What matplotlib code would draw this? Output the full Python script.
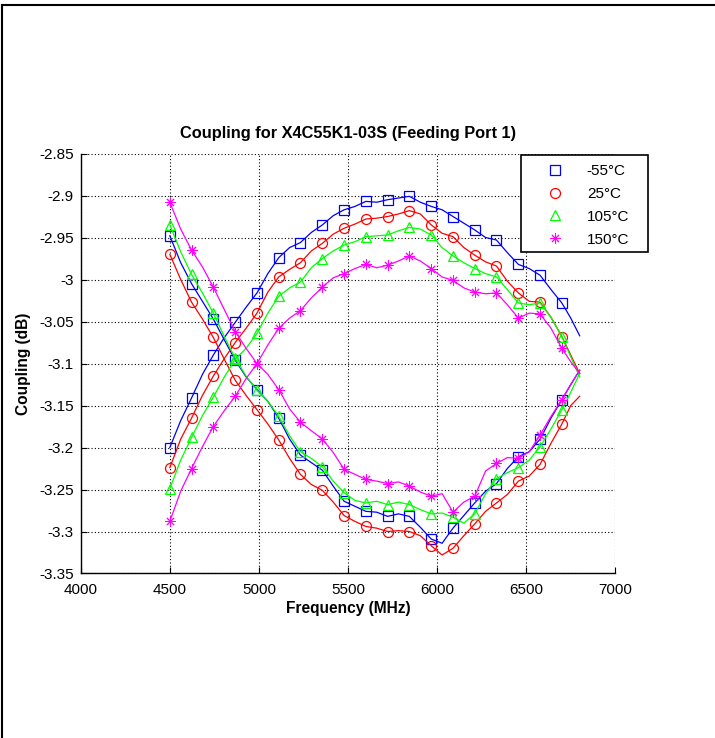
#!/usr/bin/env python3
"""
耦合度温度特性曲线复现
X4C55K1-03S (Feeding Port 1) 在四个温度下的两条耦合度曲线
"""

import matplotlib
matplotlib.use("Agg")
import matplotlib.pyplot as plt
from matplotlib.lines import Line2D
from matplotlib.patches import Rectangle

# ===================== 配置项 =====================
SAVE_PATH = "out.png"

# 曲线采样频点 (MHz)，偶数下标为标记点
LINE_FREQ = [4500, 4561, 4622, 4683, 4744, 4806, 4867, 4928, 4989, 5050,
             5111, 5172, 5233, 5294, 5356, 5417, 5478, 5539, 5600, 5661,
             5722, 5783, 5844, 5906, 5967, 6028, 6089, 6150, 6211, 6272,
             6333, 6394, 6456, 6517, 6578, 6639, 6700, 6750, 6800]
N_MARK = 37  # 前37个点中每隔一个画标记 (4500~6700)

TEMPS = ["-55\u00b0C", "25\u00b0C", "105\u00b0C", "150\u00b0C"]

# 上弧线 (先升后降)
UP_M55 = [-3.200, -3.168, -3.141, -3.113, -3.090, -3.069, -3.051, -3.033, -3.016, -2.993,
          -2.974, -2.962, -2.956, -2.944, -2.935, -2.924, -2.917, -2.913, -2.907, -2.908,
          -2.905, -2.903, -2.901, -2.908, -2.913, -2.917, -2.925, -2.933, -2.941, -2.950,
          -2.953, -2.968, -2.982, -2.987, -2.995, -3.012, -3.028, -3.046, -3.067]
UP_25 = [-3.224, -3.190, -3.165, -3.138, -3.115, -3.094, -3.075, -3.058, -3.040, -3.015,
         -2.997, -2.988, -2.980, -2.966, -2.957, -2.946, -2.939, -2.934, -2.928, -2.927,
         -2.925, -2.922, -2.918, -2.922, -2.935, -2.945, -2.949, -2.962, -2.971, -2.979,
         -2.984, -3.002, -3.016, -3.026, -3.027, -3.045, -3.068, -3.090, -3.112]
UP_105 = [-3.249, -3.215, -3.188, -3.162, -3.140, -3.116, -3.095, -3.082, -3.064, -3.040,
          -3.020, -3.010, -3.003, -2.986, -2.975, -2.966, -2.959, -2.955, -2.949, -2.948,
          -2.947, -2.942, -2.938, -2.940, -2.947, -2.962, -2.972, -2.980, -2.987, -2.993,
          -2.997, -3.012, -3.028, -3.030, -3.028, -3.045, -3.068, -3.092, -3.116]
UP_150 = [-3.288, -3.252, -3.225, -3.199, -3.175, -3.156, -3.139, -3.118, -3.100, -3.078,
          -3.058, -3.046, -3.037, -3.022, -3.009, -2.998, -2.993, -2.987, -2.982, -2.986,
          -2.983, -2.978, -2.972, -2.978, -2.987, -2.997, -3.001, -3.010, -3.015, -3.017,
          -3.016, -3.030, -3.046, -3.040, -3.041, -3.058, -3.082, -3.098, -3.112]

# 下弧线 (先降后升)
DN_M55 = [-2.948, -2.980, -3.005, -3.026, -3.047, -3.072, -3.096, -3.116, -3.131, -3.145,
          -3.165, -3.190, -3.209, -3.218, -3.227, -3.246, -3.264, -3.270, -3.276, -3.277,
          -3.282, -3.279, -3.282, -3.295, -3.309, -3.314, -3.296, -3.281, -3.266, -3.252,
          -3.243, -3.225, -3.211, -3.205, -3.190, -3.165, -3.143, -3.125, -3.108]
DN_25 = [-2.970, -3.000, -3.027, -3.047, -3.069, -3.095, -3.120, -3.138, -3.155, -3.172,
         -3.191, -3.213, -3.232, -3.244, -3.251, -3.265, -3.281, -3.288, -3.294, -3.296,
         -3.300, -3.299, -3.300, -3.305, -3.317, -3.328, -3.320, -3.305, -3.291, -3.276,
         -3.266, -3.256, -3.240, -3.234, -3.220, -3.195, -3.172, -3.150, -3.139]
DN_105 = [-2.935, -2.967, -2.994, -3.016, -3.040, -3.068, -3.094, -3.115, -3.132, -3.145,
          -3.163, -3.186, -3.205, -3.213, -3.223, -3.240, -3.254, -3.263, -3.266, -3.264,
          -3.268, -3.265, -3.268, -3.274, -3.279, -3.278, -3.283, -3.290, -3.279, -3.255,
          -3.237, -3.230, -3.224, -3.215, -3.199, -3.178, -3.155, -3.134, -3.112]
DN_150 = [-2.908, -2.940, -2.965, -2.985, -3.009, -3.036, -3.062, -3.082, -3.100, -3.113,
          -3.131, -3.154, -3.170, -3.180, -3.190, -3.206, -3.226, -3.232, -3.238, -3.240,
          -3.243, -3.241, -3.246, -3.253, -3.258, -3.255, -3.277, -3.265, -3.258, -3.228,
          -3.219, -3.212, -3.213, -3.205, -3.185, -3.163, -3.143, -3.125, -3.108]

X_TICKS = [4000, 4500, 5000, 5500, 6000, 6500, 7000]
Y_TICKS = [-3.35, -3.3, -3.25, -3.2, -3.15, -3.1, -3.05, -3.0, -2.95, -2.9, -2.85]
Y_TICK_LABELS = ["-3.35", "-3.3", "-3.25", "-3.2", "-3.15", "-3.1", "-3.05",
                 "-3", "-2.95", "-2.9", "-2.85"]

COLORS = ["#0000ff", "#ff0000", "#00ff00", "#ff00ff"]
MARKERS = ["s", "o", "^", (8, 2, 0)]
MEW = [0.9, 0.9, 0.9, 0.7]


# ===================== 绘图 =====================
def plot_coupling():
    plt.rcParams['font.family'] = ['Liberation Sans', 'DejaVu Sans']

    fig = plt.figure(figsize=(7.15, 7.38), dpi=100)
    ax = fig.add_axes([0.1129, 0.2229, 0.7477, 0.5691])

    ups = [UP_M55, UP_25, UP_105, UP_150]
    dns = [DN_M55, DN_25, DN_105, DN_150]
    mark_freq = LINE_FREQ[:N_MARK:2]

    handles = []
    for up, dn, c, m, w in zip(ups, dns, COLORS, MARKERS, MEW):
        for ys in (up, dn):
            ax.plot(LINE_FREQ, ys, color=c, linewidth=0.9)
            ax.plot(mark_freq, ys[:N_MARK:2], linestyle='none', marker=m,
                    markersize=7.2, markerfacecolor='none',
                    markeredgecolor=c, markeredgewidth=w)
        handles.append(Line2D([], [], linestyle='none', marker=m, markersize=7.2,
                              markerfacecolor='none', markeredgecolor=c,
                              markeredgewidth=w))

    ax.set_xlim(4000, 7000)
    ax.set_ylim(-3.35, -2.85)
    ax.set_xticks(X_TICKS)
    ax.set_yticks(Y_TICKS)
    ax.set_yticklabels(Y_TICK_LABELS)
    ax.tick_params(direction='in', length=4, width=0.8, labelsize=11,
                   top=False, right=False)
    ax.tick_params(axis='x', pad=7)
    ax.tick_params(axis='y', pad=5)

    ax.grid(True, color='k', linestyle=(0, (1, 2)), linewidth=0.8)
    ax.set_axisbelow(True)
    ax.spines['top'].set_visible(False)
    ax.spines['right'].set_visible(False)
    ax.spines['left'].set_linewidth(1.0)
    ax.spines['bottom'].set_linewidth(1.0)

    ax.set_title('Coupling for X4C55K1-03S (Feeding Port 1)', fontsize=11.8,
                 fontweight='bold', pad=11)
    ax.set_xlabel('Frequency (MHz)', fontsize=11.2, fontweight='bold', labelpad=3)
    ax.set_ylabel('Coupling (dB)', fontsize=11.2, fontweight='bold', labelpad=6)

    # 图例外框单独画，图例本身不带框
    fig.add_artist(Rectangle((521 / 715, 1 - 252 / 738), 127 / 715, 97 / 738,
                             transform=fig.transFigure, facecolor='white',
                             edgecolor='black', linewidth=1.2, zorder=4))
    fig.legend(handles, TEMPS, loc='upper left',
               bbox_to_anchor=(539.5 / 715, 1 - 164 / 738),
               frameon=False, borderpad=0, borderaxespad=0, fontsize=11,
               handlelength=2.0, handletextpad=1.1, labelspacing=0.58)

    # 图窗外边框 (左、上)
    fig.add_artist(Line2D([1.5 / 715, 1.5 / 715], [0, 1 - 5 / 738],
                          transform=fig.transFigure, color='k', linewidth=1.5))
    fig.add_artist(Line2D([1.5 / 715, 1], [1 - 5 / 738, 1 - 5 / 738],
                          transform=fig.transFigure, color='k', linewidth=1.5))

    fig.savefig(SAVE_PATH, dpi=100)
    plt.close(fig)


# ===================== 执行 =====================
if __name__ == "__main__":
    plot_coupling()
